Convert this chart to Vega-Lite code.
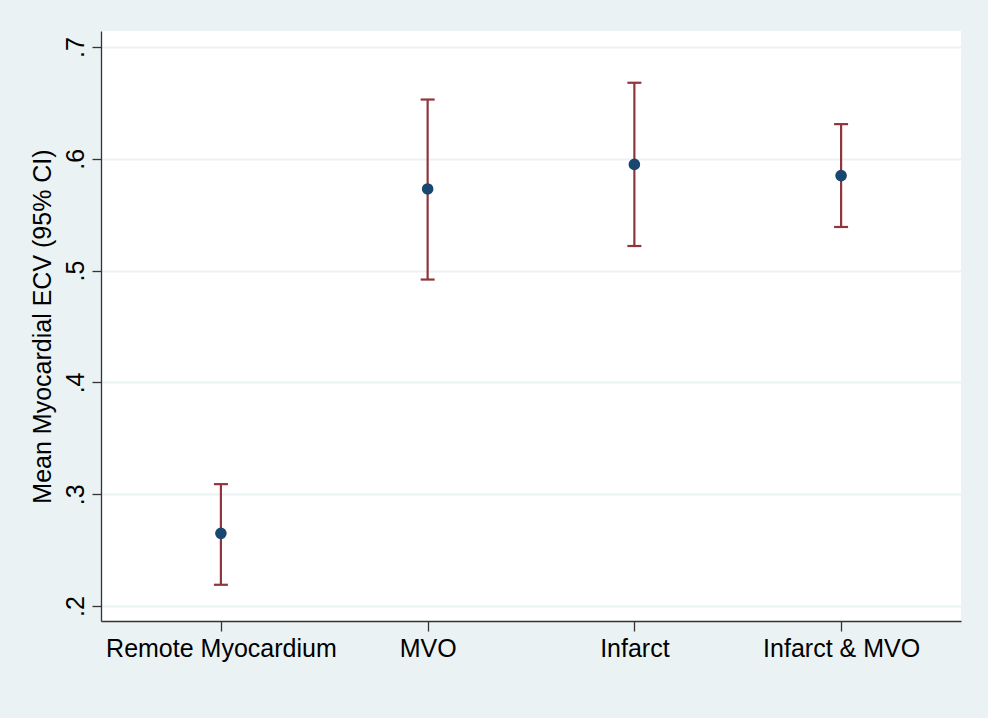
{
  "$schema": "https://vega.github.io/schema/vega-lite/v6.json",
  "width": 860,
  "height": 590,
  "autosize": {"type": "none"},
  "padding": {"left": 101, "top": 31, "right": 27, "bottom": 97},
  "background": "#EAF2F3",
  "config": {
    "view": {"fill": "white", "stroke": null},
    "font": "Liberation Sans",
    "axis": {
      "labelFont": "Liberation Sans",
      "titleFont": "Liberation Sans",
      "labelColor": "#000000",
      "titleColor": "#000000",
      "labelFontSize": 25,
      "titleFontSize": 25,
      "titleFontWeight": "normal",
      "labelLimit": 0,
      "domainColor": "#333333",
      "domainWidth": 1.3,
      "tickColor": "#333333",
      "tickWidth": 1.3
    }
  },
  "data": {
    "values": [
      {"region": "Remote Myocardium", "mean": 0.265, "lo": 0.219, "hi": 0.309},
      {"region": "MVO", "mean": 0.573, "lo": 0.492, "hi": 0.653},
      {"region": "Infarct", "mean": 0.595, "lo": 0.522, "hi": 0.668},
      {"region": "Infarct & MVO", "mean": 0.585, "lo": 0.539, "hi": 0.631}
    ]
  },
  "encoding": {
    "x": {
      "field": "region",
      "type": "nominal",
      "sort": null,
      "scale": {"type": "point", "padding": 0.58},
      "axis": {
        "title": null,
        "labelAngle": 0,
        "tickSize": 10,
        "labelPadding": 5,
        "grid": false
      }
    }
  },
  "layer": [
    {
      "mark": {"type": "rule", "color": "#90353B", "strokeWidth": 2.2},
      "encoding": {
        "y": {
          "field": "lo",
          "type": "quantitative",
          "scale": {"domain": [0.1866, 0.7143], "nice": false, "zero": false},
          "axis": {
            "title": "Mean Myocardial ECV (95% CI)",
            "values": [0.2, 0.3, 0.4, 0.5, 0.6, 0.7],
            "format": ".1f",
            "labelExpr": "slice(datum.label, 1)",
            "labelAngle": -90,
            "labelAlign": "center",
            "labelBaseline": "bottom",
            "tickSize": 9,
            "labelPadding": 4,
            "titlePadding": 8,
            "grid": true,
            "gridColor": "#EAF2F3",
            "gridWidth": 2
          }
        },
        "y2": {"field": "hi"}
      }
    },
    {
      "mark": {"type": "tick", "color": "#90353B", "thickness": 2.2, "size": 14, "opacity": 1},
      "encoding": {
        "y": {"field": "lo", "type": "quantitative", "title": "Mean Myocardial ECV (95% CI)"}
      }
    },
    {
      "mark": {"type": "tick", "color": "#90353B", "thickness": 2.2, "size": 14, "opacity": 1},
      "encoding": {
        "y": {"field": "hi", "type": "quantitative", "title": "Mean Myocardial ECV (95% CI)"}
      }
    },
    {
      "mark": {"type": "point", "filled": true, "color": "#1A476F", "size": 135, "opacity": 1, "strokeWidth": 0},
      "encoding": {
        "y": {"field": "mean", "type": "quantitative", "title": "Mean Myocardial ECV (95% CI)"}
      }
    }
  ]
}
